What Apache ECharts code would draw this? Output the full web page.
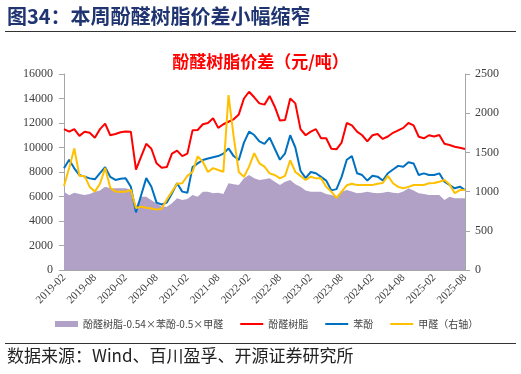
<!DOCTYPE html>
<html><head><meta charset="utf-8">
<script src="https://cdn.jsdelivr.net/npm/echarts@6/dist/echarts.min.js"></script>
<style>html,body{margin:0;padding:0;background:#fff}#c{width:521px;height:374px}</style>
</head><body><div id="c"></div>
<script>
const dates = [
'2019-02','2019-03','2019-04','2019-05','2019-06','2019-07','2019-08','2019-09','2019-10','2019-11',
'2019-12','2020-01','2020-02','2020-03','2020-04','2020-05','2020-06','2020-07','2020-08','2020-09',
'2020-10','2020-11','2020-12','2021-01','2021-02','2021-03','2021-04','2021-05','2021-06','2021-07',
'2021-08','2021-09','2021-10','2021-11','2021-12','2022-01','2022-02','2022-03','2022-04','2022-05',
'2022-06','2022-07','2022-08','2022-09','2022-10','2022-11','2022-12','2023-01','2023-02','2023-03',
'2023-04','2023-05','2023-06','2023-07','2023-08','2023-09','2023-10','2023-11','2023-12','2024-01',
'2024-02','2024-03','2024-04','2024-05','2024-06','2024-07','2024-08','2024-09','2024-10','2024-11',
'2024-12','2025-01','2025-02','2025-03','2025-04','2025-05','2025-06','2025-07','2025-08'];
const spread = [
6390,6100,6300,6200,6120,6200,6390,6500,6800,6670,
6670,6670,6670,6530,5200,5980,5980,5700,5440,5170,
5170,5440,5850,5710,5800,6120,5980,6390,6390,6260,
6300,6200,7080,7000,6940,7480,7750,7500,7350,7400,
7480,7200,6940,7200,7350,7000,6800,6500,6390,6390,
6390,6200,6120,5980,6390,6530,6400,6260,6300,6390,
6300,6260,6300,6390,6300,6260,6400,6670,6500,6260,
6200,6120,6120,6120,5710,5980,5850,5850,5850];
const resin = [
11500,11300,11500,10950,11290,11200,10800,11500,11950,11000,
11100,11250,11300,11290,8200,9250,10300,9900,8710,8350,
8400,9500,9750,9300,9500,11400,11430,11900,12000,12380,
11600,11900,12100,12300,12700,14000,14550,14100,13600,13500,
14200,13330,12200,12240,14000,13600,11500,11000,11300,11500,
10750,10750,9900,9850,10400,12000,11800,11290,11000,10500,
11000,11100,10700,10900,11200,11400,11600,12000,11800,10880,
10750,11000,10900,11020,10300,10200,10060,9980,9880];
const phenol = [
8300,9000,8300,7750,7620,7480,7400,7900,8400,7600,
7350,7450,7480,6800,4700,6100,7500,6800,5500,5350,
5500,6260,7080,6400,6300,8400,8700,8980,9100,9200,
9300,9500,9930,9300,8980,10400,11290,11020,10500,10300,
10800,9900,9000,9530,11000,10000,8100,7500,8000,7900,
7600,7300,6500,6600,7600,9000,9300,7900,7750,7300,
7700,7620,7300,7900,8200,8500,8430,8800,8700,7750,
7890,7750,7750,7890,7210,6940,6670,6800,6530];
const formaldehyde = [
1071,1300,1550,1200,1200,1060,1000,1100,1300,1050,
1000,999,999,1020,790,807,795,785,770,780,
900,1000,1100,1106,1200,1250,1450,1380,1250,1300,
1275,1254,2232,1700,1250,1190,1318,1490,1361,1318,
1233,1212,1169,1200,1400,1250,1200,1148,1190,1169,
1169,1063,1000,920,1000,1080,1100,1084,1084,1084,
1084,1100,1110,1200,1106,1060,1042,1060,1084,1084,
1084,1106,1110,1126,1148,1090,980,1020,1020];
const leftTicks = [0,2000,4000,6000,8000,10000,12000,14000,16000];
const rightTicks = [0,500,1000,1500,2000,2500];
const names = ['酚醛树脂-0.54×苯酚-0.5×甲醛','酚醛树脂','苯酚','甲醛（右轴）'];

const serif = '"Liberation Serif","Times New Roman",serif';
const cjk = '"Noto Sans CJK SC",sans-serif';
const chart = echarts.init(document.getElementById('c'));
const noSym = {opacity:0};
chart.setOption({
  animation:false,
  backgroundColor:'#fff',
  title:{text:'酚醛树脂价差（元/吨）',left:'center',top:48,
    textStyle:{color:'#FF0000',fontSize:17,fontWeight:'bold',fontFamily:cjk}},
  graphic:[
    {type:'text',left:7,top:6,style:{text:'图34：本周酚醛树脂价差小幅缩窄',font:'bold 20px '+cjk,fill:'#1F3470'}},
    {type:'line',shape:{x1:5,y1:31.5,x2:516,y2:31.5},style:{stroke:'#333',lineWidth:1}},
    {type:'line',shape:{x1:5,y1:343.5,x2:516,y2:343.5},style:{stroke:'#333',lineWidth:1}},
    {type:'text',left:7,top:347,style:{text:'数据来源：Wind、百川盈孚、开源证券研究所',font:'17px '+cjk,fill:'#222'}}
  ],
  grid:{left:64,right:56,top:74,bottom:104},
  legend:{data:[{name:names[0],icon:'rect'},{name:names[1],itemStyle:noSym},{name:names[2],itemStyle:noSym},{name:names[3],itemStyle:noSym}],
    left:55,top:319,padding:0,itemWidth:23,itemHeight:6,itemGap:16,
    textStyle:{fontSize:10,color:'#444',fontFamily:cjk}},
  xAxis:{type:'category',data:dates,boundaryGap:false,
    axisLine:{lineStyle:{color:'#A6A6A6',width:1}},
    axisTick:{show:true,interval:5,inside:true,length:4,lineStyle:{color:'#A6A6A6'}},
    axisLabel:{interval:5,rotate:45,fontSize:11,color:'#404040',fontFamily:serif,margin:6}},
  yAxis:[
    {type:'value',min:leftTicks[0],max:leftTicks[leftTicks.length-1],interval:2000,splitLine:{show:false},
     axisLine:{show:true,lineStyle:{color:'#A6A6A6',width:1}},
     axisTick:{show:true,length:5,lineStyle:{color:'#A6A6A6'}},
     axisLabel:{fontSize:12,color:'#404040',fontFamily:serif,margin:11,formatter:v=>String(v)}},
    {type:'value',min:rightTicks[0],max:rightTicks[rightTicks.length-1],interval:500,splitLine:{show:false},
     axisLine:{show:true,lineStyle:{color:'#A6A6A6',width:1}},
     axisTick:{show:true,length:5,lineStyle:{color:'#A6A6A6'}},
     axisLabel:{fontSize:12,color:'#404040',fontFamily:serif,margin:10,formatter:v=>String(v)}}
  ],
  series:[
    {name:names[0],type:'line',data:spread,yAxisIndex:0,symbol:'none',
     lineStyle:{width:0},areaStyle:{color:'#B1A1C7',opacity:1},itemStyle:{color:'#B1A1C7'},z:1},
    {name:names[1],type:'line',data:resin,yAxisIndex:0,symbol:'none',
     lineStyle:{width:2,color:'#FF0000'},itemStyle:{color:'#FF0000'},z:3},
    {name:names[2],type:'line',data:phenol,yAxisIndex:0,symbol:'none',
     lineStyle:{width:2,color:'#0070C0'},itemStyle:{color:'#0070C0'},z:3},
    {name:names[3],type:'line',data:formaldehyde,yAxisIndex:1,symbol:'none',
     lineStyle:{width:2,color:'#FFC000'},itemStyle:{color:'#FFC000'},z:4}
  ]
});
</script></body></html>
